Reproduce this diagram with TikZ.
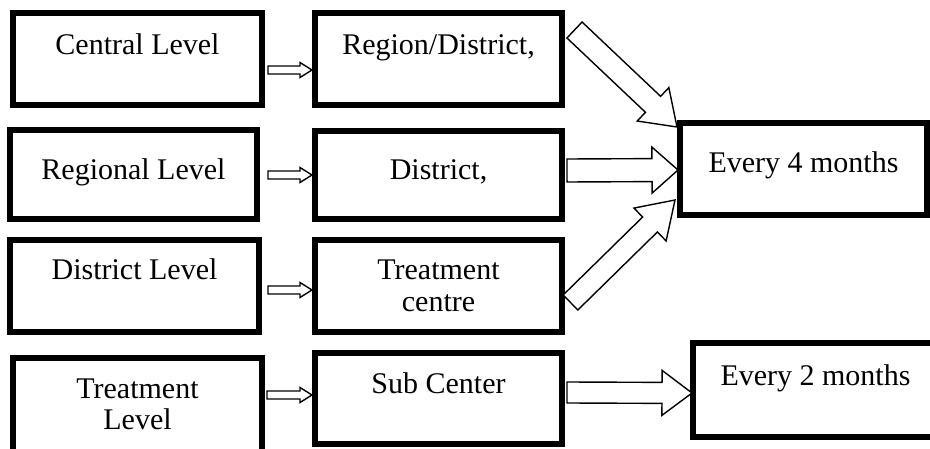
\documentclass[tikz,border=0pt]{standalone}
\usepackage{fontspec}
\setmainfont{Liberation Serif}
\usetikzlibrary{calc}
\newcommand\boxtext[4]{\parbox[c][#2pt][t]{#1pt}{\centering\vspace*{#3pt}\strut #4}}
\newcommand\blockarrow[5]{%
  \coordinate (ba-h) at ($(#2)!#5!(#1)$);
  \draw[arrowline] ($(#1)!#3!90:(#2)$) -- ($(ba-h)!#3!90:(#2)$) -- ($(ba-h)!#4!90:(#2)$) -- (#2)
    -- ($(ba-h)!#4!-90:(#2)$) -- ($(ba-h)!#3!-90:(#2)$) -- ($(#1)!#3!-90:(#2)$) -- cycle;
}
\begin{document}
\begin{tikzpicture}[x=1pt,y=-1pt,
  box/.style={draw=black, line width=6.5pt, inner sep=0pt, outer sep=0pt, anchor=north west,
    font=\fontsize{30}{32}\selectfont},
  arrowline/.style={draw=black, fill=white, line width=1.4pt, line join=miter}]
\useasboundingbox (0,0) rectangle (930,449);
\fill[white] (0,0) rectangle (930,449);
% left column
\node[box] (A1) at (13,13) {\boxtext{249}{92}{19.6}{Central Level}};
\node[box] (B1) at (10,130) {\boxtext{247}{89}{27.6}{Regional Level}};
\node[box] (C1) at (10,240) {\boxtext{249}{92}{17.6}{District Level}};
\node[box] (D1) at (13,358) {\boxtext{249}{96}{17.6}{Treatment\\Level}};
% middle column
\node[box] (A2) at (315,13) {\boxtext{247}{92}{19.6}{Region/District,}};
\node[box] (B2) at (315,131) {\boxtext{247}{88}{26.6}{District,}};
\node[box] (C2) at (315,240) {\boxtext{247}{92}{17.6}{Treatment\\centre}};
\node[box] (D2) at (315,353) {\boxtext{247}{91}{17.6}{Sub Center}};
% right column
\node[box] (E4) at (680,123) {\boxtext{247}{92}{27.6}{Every 4 months}};
\node[box] (E2) at (693,343) {\boxtext{245}{94}{19.6}{Every 2 months}};
% small arrows
\coordinate (sa1) at ($(A1.east)+(6,11)$);   \coordinate (ta1) at ($(A2.west)+(-3,11)$);
\coordinate (sa2) at ($(B1.east)+(11,0.5)$); \coordinate (ta2) at ($(B2.west)+(-3,0)$);
\coordinate (sa3) at ($(C1.east)+(9,4)$);    \coordinate (ta3) at ($(C2.west)+(-3,4)$);
\coordinate (sa4) at ($(D1.east)+(5,-11)$);  \coordinate (ta4) at ($(D2.west)+(-3,-3.5)$);
\blockarrow{sa1}{ta1}{4pt}{7.5pt}{12pt}
\blockarrow{sa2}{ta2}{4pt}{7.5pt}{12pt}
\blockarrow{sa3}{ta3}{4pt}{7.5pt}{12pt}
\blockarrow{sa4}{ta4}{4pt}{7.5pt}{12pt}
% big arrows
\coordinate (sb1) at ($(A2.north east)+(12.5,17)$); \coordinate (tb1) at ($(E4.north west)+(-3,4)$);
\coordinate (sb2) at ($(B2.east)+(5,-4.5)$);        \coordinate (tb2) at ($(E4.west)+(-2,1)$);
\coordinate (sb3) at ($(C2.east)+(8.5,16.5)$);      \coordinate (tb3) at ($(E4.south west)+(-5,-15)$);
\coordinate (sb4) at ($(D2.east)+(5,-6)$);          \coordinate (tb4) at ($(E2.west)+(-1,3)$);
\blockarrow{sb1}{tb1}{11pt}{23pt}{33pt}
\blockarrow{sb2}{tb2}{11.5pt}{23pt}{26pt}
\blockarrow{sb3}{tb3}{10.5pt}{23pt}{35pt}
\blockarrow{sb4}{tb4}{10.5pt}{22.5pt}{30pt}
\end{tikzpicture}
\end{document}
